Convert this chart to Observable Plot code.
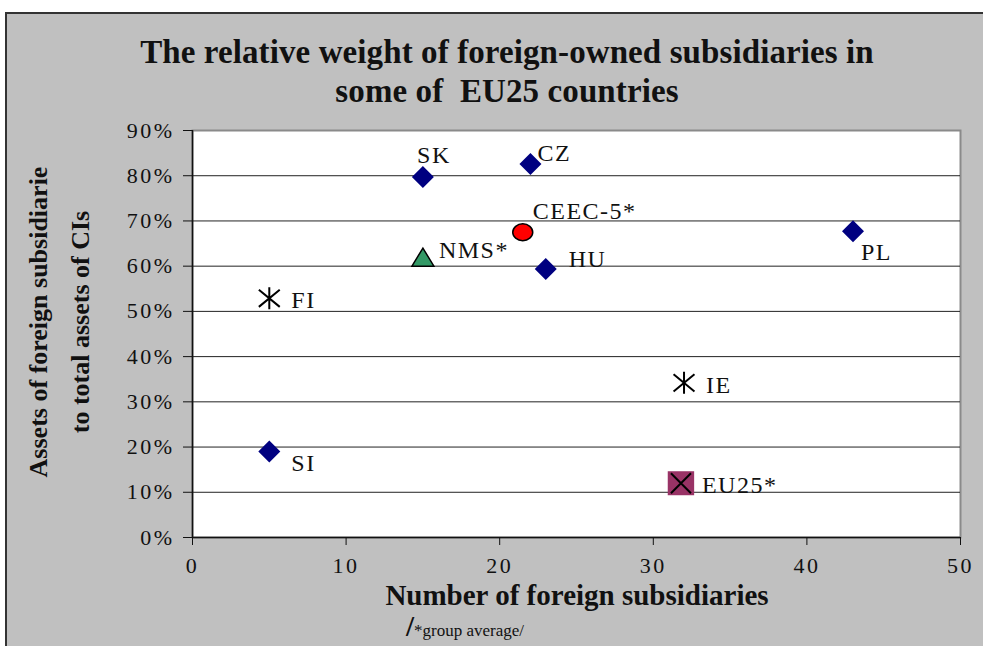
<!DOCTYPE html>
<html>
<head>
<meta charset="utf-8">
<script src="https://cdn.jsdelivr.net/npm/d3@7"></script>
<script src="https://cdn.jsdelivr.net/npm/@observablehq/plot@0.6"></script>
<style>
  body { margin: 0; background: #ffffff; }
  #wrap { position: relative; width: 983px; height: 646px; overflow: hidden; background: #ffffff;
          font-family: "Liberation Serif", "Times New Roman", serif; color: #111; }
  #panel { position: absolute; left: 5px; top: 12px; width: 1000px; height: 660px; background: #c0c0c0;
           border-left: 2px solid #333; border-top: 2px solid #333; }
  #chart { position: absolute; left: 0; top: 0; }
  .title { position: absolute; left: 0; width: 1014px; text-align: center; font-weight: bold; font-size: 33px; line-height: 39px; top: 33px; letter-spacing: 0.1px; }
  .ytitle { position: absolute; left: -140px; top: 280px; width: 400px; text-align: center; font-weight: bold; font-size: 26px; line-height: 42px;
            transform: rotate(-90deg); transform-origin: 200px 42px; }
  .xtitle { position: absolute; left: 327px; width: 500px; text-align: center; top: 580px; font-weight: bold; font-size: 29px; line-height: 30px; }
  .note { position: absolute; left: 365px; width: 200px; text-align: center; top: 612px; font-size: 17px; line-height: 28px; }
  .note b { font-size: 29px; font-weight: bold; }
  .lbl text { letter-spacing: 1.5px; }
</style>
</head>
<body>
<div id="wrap">
  <div id="panel"></div>
  <div id="chart"></div>
  <div class="title">The relative weight of foreign-owned subsidiaries in<br>some of&nbsp; EU25 countries</div>
  <div class="ytitle">Assets of foreign subsidiarie<br>to total assets of CIs</div>
  <div class="xtitle">Number of foreign subsidiaries</div>
  <div class="note"><b>/</b>*group average/</div>
</div>
<script>
// ---- data ----
const labels = ["SK", "CZ", "CEEC-5*", "NMS*", "HU", "PL", "FI", "SI", "IE", "EU25*"];
const subsidiaries = [15, 22, 21.5, 15, 23, 43, 5, 5, 32, 31.8];
const assetShare = [0.797, 0.826, 0.675, 0.62, 0.594, 0.677, 0.529, 0.19, 0.342, 0.12];
const kinds = ["country", "country", "ceec", "nms", "country", "country", "other", "country", "other", "eu25"];
const xTicks = [0, 10, 20, 30, 40, 50];
const yTicks = [0, 0.1, 0.2, 0.3, 0.4, 0.5, 0.6, 0.7, 0.8, 0.9];

const rows = labels.map((label, i) => ({ label, x: subsidiaries[i], y: assetShare[i], kind: kinds[i] }));

// label placement (style only)
const labelStyle = {
  "SK": { dx: 11, dy: -22, textAnchor: "middle" },
  "CZ": { dx: 7, dy: -11, textAnchor: "start" },
  "CEEC-5*": { dx: 10, dy: -21, textAnchor: "start" },
  "NMS*": { dx: 16, dy: -7, textAnchor: "start" },
  "HU": { dx: 23, dy: -10, textAnchor: "start" },
  "PL": { dx: 8, dy: 21, textAnchor: "start" },
  "FI": { dx: 22, dy: 2, textAnchor: "start" },
  "SI": { dx: 22, dy: 12, textAnchor: "start" },
  "IE": { dx: 22, dy: 2, textAnchor: "start" },
  "EU25*": { dx: 21, dy: 2, textAnchor: "start" }
};

// ---- custom symbols (r = sqrt(size/pi)) ----
const rad = s => Math.sqrt(s / Math.PI);
const diamond = { draw(c, s) { const r = rad(s); c.moveTo(0, -r); c.lineTo(r, 0); c.lineTo(0, r); c.lineTo(-r, 0); c.closePath(); } };
const ellipse = { draw(c, s) { const r = rad(s), a = r, b = r * 0.84, k = 0.5523;
  c.moveTo(a, 0);
  c.bezierCurveTo(a, b * k, a * k, b, 0, b);
  c.bezierCurveTo(-a * k, b, -a, b * k, -a, 0);
  c.bezierCurveTo(-a, -b * k, -a * k, -b, 0, -b);
  c.bezierCurveTo(a * k, -b, a, -b * k, a, 0);
  c.closePath(); } };
const triangle = { draw(c, s) { const r = rad(s); c.moveTo(0, -r * 0.82); c.lineTo(r, r * 0.82); c.lineTo(-r, r * 0.82); c.closePath(); } };
const star = { draw(c, s) { const r = rad(s);
  c.moveTo(0, -r); c.lineTo(0, r);
  c.moveTo(-r * 0.95, -r * 0.78); c.lineTo(r * 0.95, r * 0.78);
  c.moveTo(-r * 0.95, r * 0.78); c.lineTo(r * 0.95, -r * 0.78); } };
const square = { draw(c, s) { const r = rad(s); c.moveTo(-r * 1.1, -r); c.lineTo(r * 1.1, -r); c.lineTo(r * 1.1, r); c.lineTo(-r * 1.1, r); c.closePath(); } };
const cross = { draw(c, s) { const r = rad(s); c.moveTo(-r, -r); c.lineTo(r, r); c.moveTo(-r, r); c.lineTo(r, -r); } };

const pick = k => rows.filter(d => d.kind === k);

const textMarks = rows.map(d => Plot.text([d], {
  x: "x", y: "y", text: "label",
  dx: labelStyle[d.label].dx, dy: labelStyle[d.label].dy, textAnchor: labelStyle[d.label].textAnchor,
  fontSize: 24, fill: "#111", stroke: null, className: "lbl"
}));

const chart = Plot.plot({
  width: 983, height: 646,
  marginLeft: 192, marginRight: 23, marginTop: 130, marginBottom: 109,
  style: { background: "transparent", fontFamily: "'Liberation Serif', 'Times New Roman', serif", color: "#111", overflow: "visible" },
  x: { domain: [0, 50] },
  y: { domain: [0, 0.9] },
  marks: [
    Plot.frame({ fill: "white", stroke: "#8a8a8a", strokeWidth: 2 }),
    Plot.gridY(yTicks.slice(1, -1), { stroke: "#222", strokeOpacity: 1, strokeWidth: 1 }),
    Plot.ruleX([0], { stroke: "#111", strokeWidth: 1.5 }),
    Plot.ruleY([0], { stroke: "#111", strokeWidth: 1.5 }),
    Plot.axisX({ ticks: xTicks, tickSize: 8, tickPadding: 12, label: null, fontSize: 22, tickFormat: d => String(d) }),
    Plot.axisY({ ticks: yTicks, tickSize: 9, tickPadding: 9, label: null, fontSize: 22, tickFormat: d => Math.round(d * 100) + "%" }),
    Plot.dot(pick("country"), { x: "x", y: "y", symbol: diamond, r: 11, fill: "#000080", stroke: "none" }),
    Plot.dot(pick("ceec"), { x: "x", y: "y", symbol: ellipse, r: 10, fill: "#ff0000", stroke: "#000", strokeWidth: 1.5 }),
    Plot.dot(pick("nms"), { x: "x", y: "y", symbol: triangle, r: 11, fill: "#339966", stroke: "#000", strokeWidth: 1.5 }),
    Plot.dot(pick("other"), { x: "x", y: "y", symbol: star, r: 11, fill: "none", stroke: "#000", strokeWidth: 2 }),
    Plot.dot(pick("eu25"), { x: "x", y: "y", symbol: square, r: 12, fill: "#993366", stroke: "none" }),
    Plot.dot(pick("eu25"), { x: "x", y: "y", symbol: cross, r: 10, fill: "none", stroke: "#000", strokeWidth: 2 }),
    ...textMarks
  ]
});
// wider serif look of the original tick labels
d3.select(chart).selectAll('g[aria-label$="tick label"] text')
  .style("font-size", "22px").style("letter-spacing", "2.5px");
document.getElementById("chart").appendChild(chart);
</script>
</body>
</html>
